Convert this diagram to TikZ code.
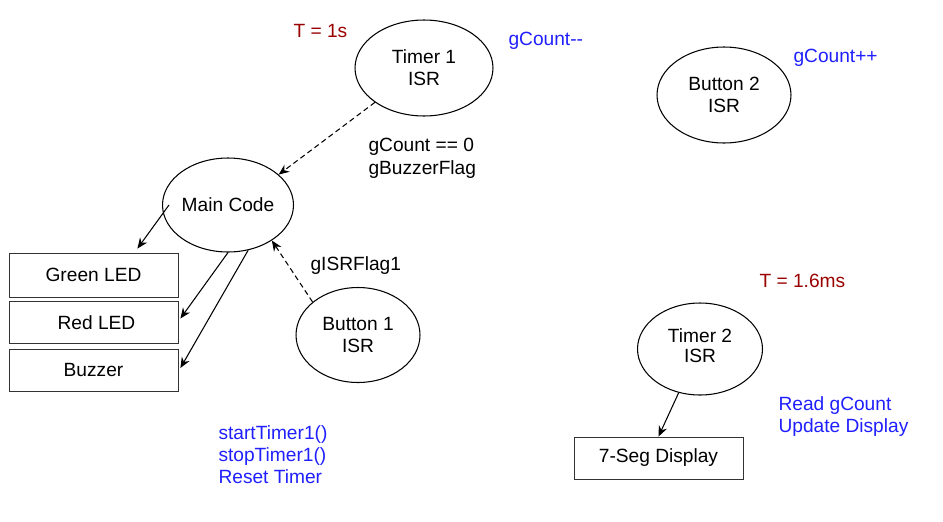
\documentclass[tikz,border=0pt]{standalone}
\usepackage{fontspec}
\setmainfont{Liberation Sans}
\usetikzlibrary{shapes.geometric,arrows.meta}
\definecolor{noteblue}{HTML}{1F1FFF}
\definecolor{notered}{HTML}{990000}

\begin{document}
\begin{tikzpicture}[x=0.02cm, y=-0.02cm, line width=0.6pt,
    font=\fontsize{10.9}{12.6}\selectfont,
    isr/.style={draw, ellipse, align=center, inner sep=0pt},
    device/.style={draw=black!80, line width=0.5pt, rectangle, minimum width=3.38cm, minimum height=0.84cm, inner sep=0pt},
    flow/.style={-{Stealth[length=6pt,width=5pt]}},
    signal/.style={flow, dash pattern=on 3pt off 2pt},
    note/.style={inner sep=0pt, align=left},
    blue note/.style={note, text=noteblue},
    red note/.style={note, text=notered}
    ]
    \useasboundingbox (0,0) rectangle (943,521);

    \node [isr, minimum width=2.76cm, minimum height=1.92cm] (timerone) at (424,68) {Timer 1\\ISR};
    \node [isr, minimum width=2.68cm, minimum height=1.92cm] (buttontwo) at (724,95) {Button 2\\ISR};
    \node [isr, minimum width=2.48cm, minimum height=1.88cm] (main) at (228,205) {Main Code};
    \node [isr, minimum width=2.48cm, minimum height=1.9cm] (buttonone) at (358,335) {Button 1\\ISR};
    \node [isr, minimum width=2.5cm, minimum height=1.84cm] (timertwo) at (700,349) {Timer 2\\[-1pt]ISR\\[-0.3cm]};

    \node [device, minimum height=0.88cm] (green) at (93.5,275) {Green LED};
    \node [device] (red) at (93.5,322.5) {\hspace{0.12cm}Red LED};
    \node [device] (buzzer) at (93.5,370) {Buzzer};
    \node [device] (seg) at (658.5,458) {7-Seg Display};

    \node [red note, anchor=base west] (periodone) at (293,37) {T = 1s};
    \node [red note, anchor=base west] (periodtwo) at (759,287) {T = 1.6ms};
    \node [blue note, anchor=base west] (decrement) at (508,45) {gCount{-}{-}};
    \node [blue note, anchor=base west] (increment) at (793,62) {gCount++};
    \node [note, anchor=base west] (isrflag) at (310,270) {gISRFlag1};
    \node [note, anchor=north west] (buzzerflag) at (368,138) {gCount == 0\\gBuzzerFlag};
    \node [blue note, anchor=north west] (display) at (778,396) {Read gCount\\Update Display};
    \node [blue note, anchor=north west] (timercalls) at (218,425) {startTimer1()\\stopTimer1()\\Reset Timer};

    \draw [signal] (timerone.215) -- (main.31);
    \draw [signal] (buttonone.144) -- (main.-39);
    \draw [flow] ([xshift=0.14cm]main.west) -- ([xshift=-0.82cm,yshift=0.08cm]green.north east);
    \draw [flow] (main.south) -- ([xshift=0.04cm,yshift=0.08cm]red.east);
    \draw [flow] (main.-66) -- ([xshift=0.04cm,yshift=0.04cm]buzzer.east);
    \draw [flow] (timertwo.-116) -- (seg.north);
\end{tikzpicture}
\end{document}
